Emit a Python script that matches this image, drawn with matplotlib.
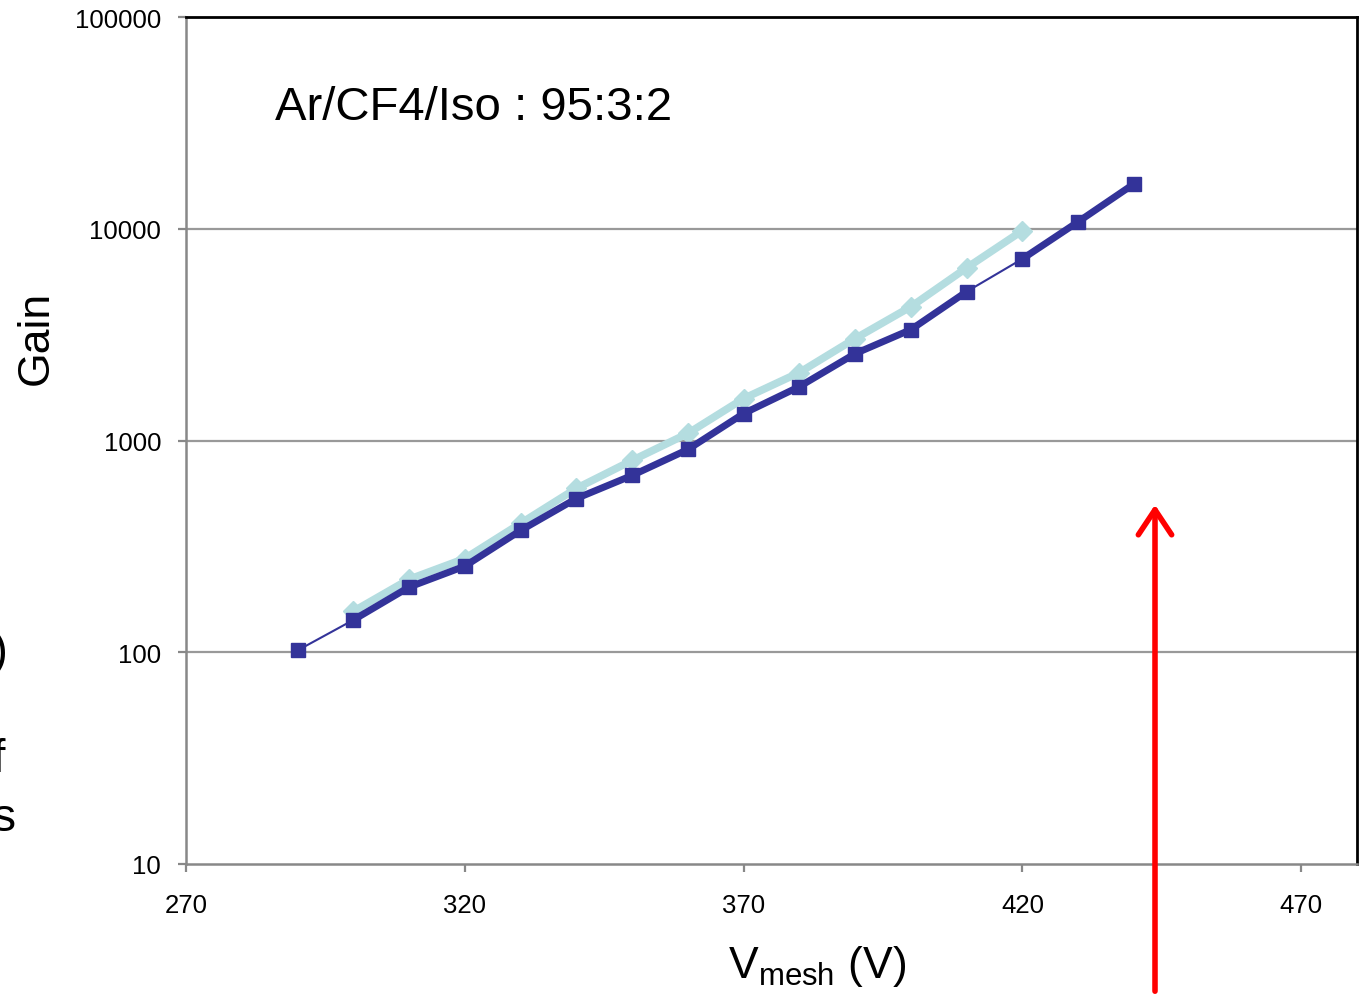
import matplotlib
matplotlib.use("Agg")
import matplotlib.pyplot as plt
from matplotlib.patches import FancyArrowPatch
import numpy as np

plt.rcParams['font.family'] = ['Liberation Sans', 'DejaVu Sans']
plt.rcParams['mathtext.fontset'] = 'custom'
plt.rcParams['mathtext.rm'] = 'Liberation Sans'

# Data
v_dark = [290, 300, 310, 320, 330, 340, 350, 360, 370, 380, 390, 400, 410, 420, 430, 440]
gain_dark = [102, 142, 203, 255, 376, 532, 684, 907, 1341, 1797, 2572, 3340, 5048, 7210, 10790, 16290]
v_light = [300, 310, 320, 330, 340, 350, 360, 370, 380, 390, 400, 410, 420]
gain_light = [156, 221, 277, 406, 594, 805, 1080, 1578, 2094, 3030, 4285, 6540, 9800]
x_ticks = [270, 320, 370, 420, 470]
y_ticks = [10, 100, 1000, 10000, 100000]
y_ticklabels = ['10', '100', '1000', '10000', '100000']

dark = '#333399'
light = '#b4dde0'

W, H = 1363, 995
fig = plt.figure(figsize=(W/100, H/100), dpi=100)
ax = fig.add_axes([186/W, 1-865/H, (1357-186)/W, (865-18)/H])

ax.set_yscale('log')
ax.set_xlim(270, 480)
ax.set_ylim(10, 100000)

for y in y_ticks[1:-1]:
    ax.axhline(y, color='#999999', lw=1.6, zorder=1)

# light series
ax.plot(v_light, gain_light, color=light, lw=5.5, marker='D', markersize=10.5,
        markerfacecolor=light, markeredgecolor=light, zorder=3, solid_joinstyle='round')

# dark series: thin line through all, thick through segments
ax.plot(v_dark, gain_dark, color=dark, lw=1.5, zorder=4)
ax.plot(v_dark[1:13], gain_dark[1:13], color=dark, lw=5, zorder=4, solid_joinstyle='round')
ax.plot(v_dark[13:], gain_dark[13:], color=dark, lw=5, zorder=4, solid_joinstyle='round')
ax.plot(v_dark, gain_dark, linestyle='none', marker='s', markersize=9.5,
        markerfacecolor=dark, markeredgecolor=dark, zorder=5)

ax.set_xticks(x_ticks)
ax.set_xticklabels([str(t) for t in x_ticks])
ax.set_yticks(y_ticks)
ax.set_yticklabels(y_ticklabels)
ax.minorticks_off()
ax.tick_params(axis='both', direction='out', length=6, width=1.6, color='#888888',
               labelsize=18.5, labelcolor='black')
ax.tick_params(axis='x', pad=15)
ax.tick_params(axis='y', pad=12)

for s in ['left', 'bottom']:
    ax.spines[s].set_color('#888888')
    ax.spines[s].set_linewidth(1.8)
for s in ['top', 'right']:
    ax.spines[s].set_color('black')
    ax.spines[s].set_linewidth(2)

ax.set_ylabel('Gain', fontsize=32)
ax.yaxis.set_label_coords((57-186)/(1357-186), (865-338)/(865-18))

fig.text(817/W, 1-978/H, r'V$_{\mathrm{mesh}}$ (V)', fontsize=32, ha='center', va='baseline')

fig.text(275/W, 1-120/H, 'Ar/CF4/Iso : 95:3:2', fontsize=34, ha='left', va='baseline')

# Cut-off slide text on the left edge
fig.text(-34/W, 1-665/H, 'd)', fontsize=34, ha='left', va='baseline')
fig.text(-34/W, 1-772/H, 'of', fontsize=34, ha='left', va='baseline')
fig.text(-30/W, 1-831/H, 'ks', fontsize=34, ha='left', va='baseline')

# Red arrow
arrow = FancyArrowPatch((1155/W, 0.0), (1155/W, 1-503/H), transform=fig.transFigure,
                        arrowstyle='->,head_length=0.9,head_width=0.6', color='red',
                        lw=4, mutation_scale=20, capstyle='round', joinstyle='round')
fig.patches.append(arrow)

fig.savefig('out.png', dpi=100)
